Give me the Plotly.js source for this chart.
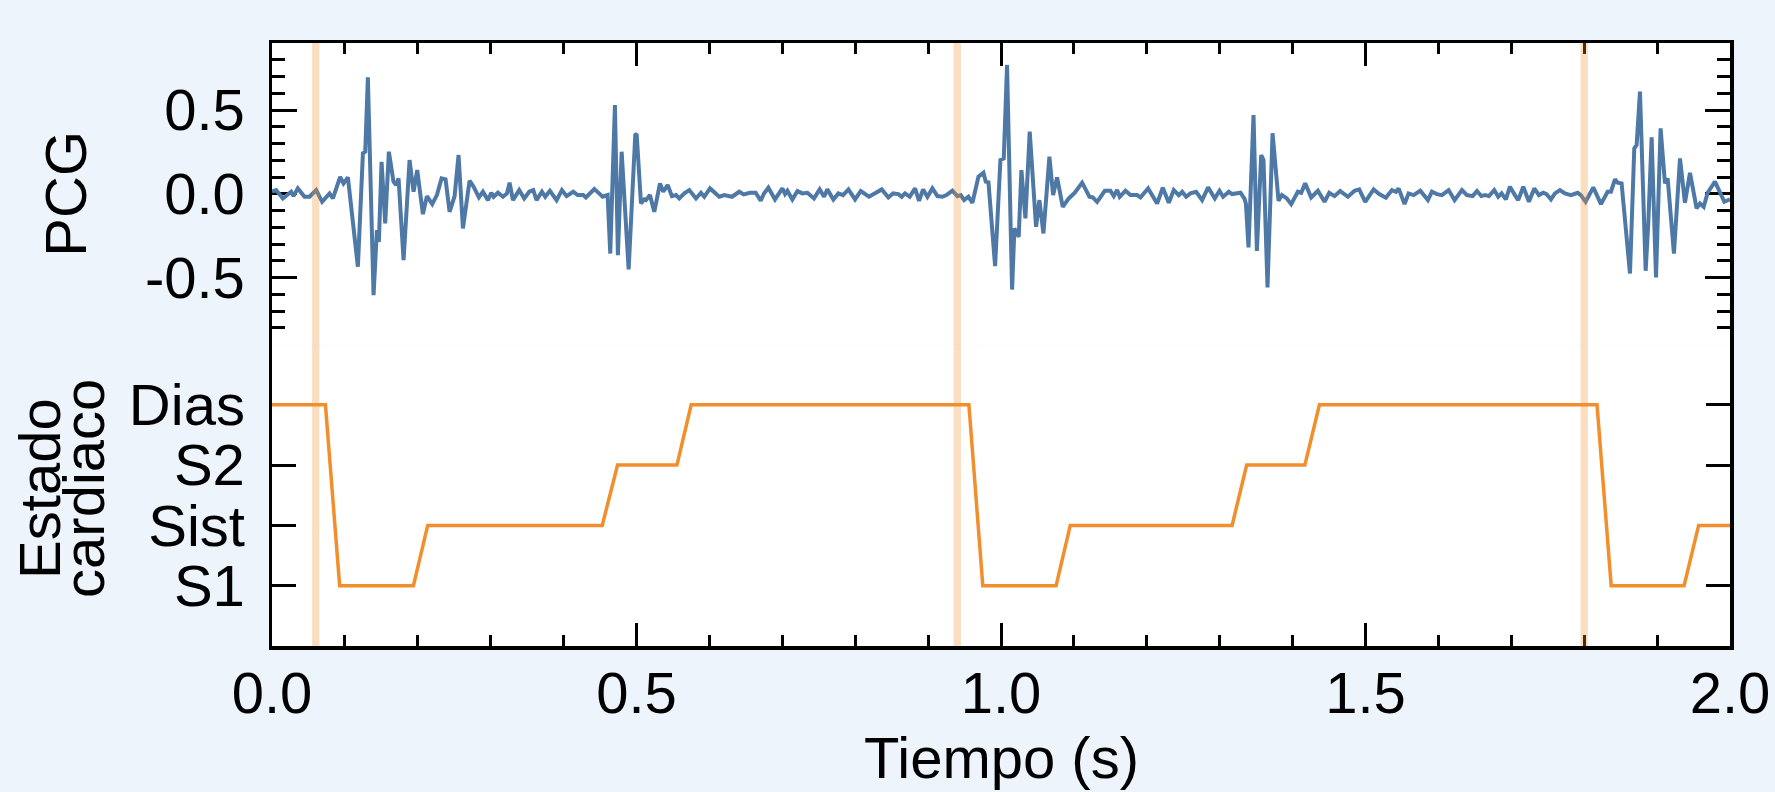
<!DOCTYPE html>
<html>
<head>
<meta charset="utf-8">
<script src="https://cdn.plot.ly/plotly-3.0.1.min.js"></script>
<style>
html,body{margin:0;padding:0;background:#eef4fc;}
#chart{width:1775px;height:792px;}
</style>
</head>
<body>
<div id="chart"></div>
<script>
// PCG signal (time in s, amplitude)
const pcgT = [
0.0000,0.0057,0.0149,0.0217,0.0263,0.0295,0.0354,0.0446,0.0515,0.0606,0.0688,0.0789,0.0835,0.0935,0.0981,0.1041,
0.1178,0.1247,0.1279,0.1315,0.1393,0.1439,0.1466,0.1503,0.1553,0.1603,0.1667,0.1704,0.1736,0.1805,0.1887,0.1942,
0.1992,0.2070,0.2125,0.2198,0.2262,0.2326,0.2381,0.2436,0.2505,0.2559,0.2619,0.2710,0.2765,0.2838,0.2893,0.2962,
0.3008,0.3040,0.3099,0.3168,0.3223,0.3259,0.3305,
0.3391,0.3460,0.3529,0.3584,0.3629,0.3703,0.3748,0.3812,0.3904,0.3977,0.4041,0.4132,0.4192,0.4270,0.4306,0.4375,
0.4421,0.4498,0.4535,0.4604,0.4640,0.4704,0.4745,0.4796,0.4892,0.4983,0.5002,0.5061,0.5107,0.5130,0.5184,0.5244,
0.5322,0.5367,0.5427,0.5486,0.5541,0.5587,0.5656,0.5724,0.5816,0.5884,0.5930,0.6008,0.6054,0.6136,0.6204,0.6310,
0.6410,0.6470,0.6557,
0.6635,0.6704,0.6749,0.6809,0.6900,0.6955,0.7001,0.7038,0.7070,0.7138,0.7207,0.7275,0.7344,0.7435,0.7513,0.7573,
0.7618,0.7701,0.7769,0.7833,0.7907,0.7998,0.8076,0.8190,0.8273,0.8364,0.8455,0.8519,0.8593,0.8638,0.8684,0.8748,
0.8821,0.8876,0.8931,0.8991,0.9059,0.9128,0.9197,0.9251,0.9334,0.9402,0.9448,0.9494,0.9553,0.9608,0.9691,0.9759,
0.9791,0.9828,0.9919,
0.9992,1.0038,1.0083,1.0152,1.0184,1.0243,1.0280,1.0335,1.0394,1.0481,1.0527,1.0582,1.0664,1.0715,1.0769,1.0847,
1.0930,1.1012,1.1113,1.1213,1.1259,1.1318,1.1424,1.1501,1.1547,1.1593,1.1629,1.1707,1.1776,1.1867,1.1913,1.2018,
1.2082,1.2142,1.2219,1.2302,1.2370,1.2439,1.2485,1.2540,1.2599,1.2677,1.2759,1.2841,1.2933,1.2997,1.3047,1.3125,
1.3171,1.3285,
1.3341,1.3360,1.3395,1.3464,1.3510,1.3569,1.3601,1.3656,1.3725,1.3807,1.3853,1.3921,1.3981,1.4072,1.4118,1.4173,
1.4255,1.4347,1.4438,1.4502,1.4576,1.4653,1.4759,1.4850,1.4914,1.4996,1.5111,1.5188,1.5280,1.5362,1.5417,1.5454,
1.5536,1.5591,1.5660,1.5751,1.5856,1.5911,1.5980,1.6048,1.6140,1.6222,1.6323,1.6391,1.6469,1.6529,1.6588,
1.6638,1.6693,1.6766,1.6821,1.6867,1.6926,1.6981,1.7050,1.7095,1.7164,1.7242,1.7315,1.7379,1.7438,1.7484,1.7544,
1.7599,1.7667,1.7736,1.7818,1.7910,1.7955,1.8019,1.8125,1.8230,1.8321,1.8367,1.8422,1.8458,1.8513,1.8628,1.8687,
1.8719,1.8765,1.8843,1.8879,1.8925,1.8985,1.9048,1.9108,1.9145,1.9231,1.9314,1.9382,1.9451,1.9542,1.9588,1.9639,
1.9693,1.9794,1.9922,2.0000
];
const pcgV = [
0.012,0.022,-0.028,-0.008,0.012,-0.014,0.032,-0.018,-0.018,0.022,-0.048,0.002,-0.028,0.100,0.062,0.098,
-0.436,0.241,0.251,0.695,-0.606,-0.217,-0.287,0.191,-0.177,0.251,0.072,0.052,0.092,-0.396,0.201,0.012,
0.141,-0.122,-0.014,-0.062,-0.008,0.092,0.086,-0.108,-0.014,0.231,-0.207,0.078,0.042,-0.022,0.012,-0.038,
0.006,-0.018,0.006,-0.018,0.002,0.066,-0.038,
0.022,-0.028,0.012,0.022,-0.038,0.012,-0.018,0.018,-0.038,0.022,-0.014,0.012,-0.008,-0.008,-0.022,0.012,
0.028,-0.002,-0.018,-0.008,-0.357,0.530,-0.367,0.251,-0.452,0.351,0.357,-0.058,-0.034,-0.038,-0.008,-0.108,
0.062,0.012,0.052,-0.014,-0.008,-0.028,0.002,0.022,-0.028,0.006,-0.018,0.032,0.012,-0.018,-0.008,-0.018,
0.012,-0.004,0.006,
0.006,-0.042,0.002,0.036,-0.034,0.002,0.032,-0.002,0.018,-0.034,0.016,0.002,0.006,-0.028,0.026,-0.018,
0.026,-0.034,0.002,-0.008,0.026,-0.034,0.016,-0.018,0.002,0.026,-0.022,0.002,-0.002,-0.018,0.002,-0.018,
0.032,-0.042,0.026,-0.018,0.032,-0.014,-0.018,-0.008,0.018,-0.014,-0.008,-0.038,-0.018,-0.054,0.102,0.125,
0.072,0.068,-0.432,
0.201,0.211,0.769,-0.572,-0.207,-0.257,0.141,-0.147,0.371,-0.197,-0.038,-0.237,0.221,-0.008,0.098,-0.078,
-0.028,0.006,0.066,-0.018,-0.022,-0.048,0.018,0.018,-0.014,0.022,-0.018,0.018,-0.008,-0.008,-0.022,0.032,
-0.014,-0.058,0.036,-0.054,0.022,-0.008,0.012,-0.018,0.002,0.012,-0.038,0.038,-0.028,0.018,-0.018,0.012,
-0.002,0.006,
-0.030,-0.060,-0.320,0.470,-0.341,0.231,0.201,-0.560,0.361,-0.042,-0.008,-0.028,-0.062,0.012,0.006,0.062,
-0.022,0.018,-0.048,0.006,-0.014,0.016,-0.018,0.018,0.026,-0.048,0.026,-0.002,-0.024,0.022,0.012,0.032,
-0.062,0.002,-0.008,0.018,-0.038,0.012,-0.002,-0.008,0.022,-0.038,0.022,-0.008,-0.014,0.016,-0.014,
-0.008,-0.014,0.022,-0.018,0.002,-0.034,0.042,-0.008,-0.038,0.042,-0.048,0.032,-0.008,0.006,-0.002,-0.034,
0.002,0.022,0.002,-0.008,0.006,-0.008,-0.048,0.038,-0.062,0.012,0.012,0.086,0.066,0.062,-0.476,0.271,
0.291,0.610,-0.460,-0.177,0.337,-0.500,0.390,0.062,0.092,-0.357,0.211,-0.054,0.125,-0.088,-0.058,-0.078,
0.006,0.072,-0.048,-0.034
];

// Cardiac state (vertices of the state line)
const stateT = [0,0.0733,0.0928,0.194,0.2136,0.453,0.474,0.5555,0.575,0.956,0.975,1.0756,1.095,1.317,1.337,1.4168,1.4368,1.8176,1.837,1.937,1.957,2.0];
const stateV = ['Dias','Dias','S1','S1','Sist','Sist','S2','S2','Dias','Dias','S1','S1','Sist','Sist','S2','S2','Dias','Dias','S1','S1','Sist','Sist'];
const stateLabels = ['S1','Sist','S2','Dias'];

// Marker times (vertical bands)
const markerTimes = [0.06, 0.94, 1.80];

// Tick labels
const pcgTickVals = [-0.5, 0, 0.5];
const pcgTickText = ['-0.5', '0.0', '0.5'];
const timeTickVals = [0, 0.5, 1.0, 1.5, 2.0];
const timeTickText = ['0.0', '0.5', '1.0', '1.5', '2.0'];

const FONT = '"Liberation Sans", Arial, Helvetica, sans-serif';
const fs = 58;

const traces = [
  {x: pcgT, y: pcgV, type: 'scatter', mode: 'lines', xaxis: 'x2', yaxis: 'y',
   line: {color: '#4e79a7', width: 4}, hoverinfo: 'skip'},
  {x: stateT, y: stateV, type: 'scatter', mode: 'lines', xaxis: 'x', yaxis: 'y2',
   line: {color: '#f28e2b', width: 3.5}, hoverinfo: 'skip'}
];

const common = {showline: true, linecolor: '#000', linewidth: 3.5, ticks: 'inside',
  tickcolor: '#000', tickwidth: 3, showgrid: false, zeroline: false, layer: 'below traces'};
const xMinor = {tickmode: 'linear', tick0: 0, dtick: 0.1, ticks: 'inside', ticklen: 11, tickwidth: 3, tickcolor: '#000', showgrid: false};

const layout = {
  width: 1775, height: 792,
  paper_bgcolor: '#eef4fc', plot_bgcolor: '#ffffff',
  margin: {l: 272, r: 45, t: 43, b: 146, pad: 0},
  showlegend: false,
  font: {family: FONT, size: fs, color: '#000'},
  xaxis: Object.assign({}, common, {anchor: 'y2', domain: [0, 1], range: [0, 2],
    tickmode: 'array', tickvals: timeTickVals, ticktext: timeTickText, ticklen: 23,
    minor: xMinor, ticklabelstandoff: -6}),
  xaxis2: Object.assign({}, common, {anchor: 'y', matches: 'x', side: 'top', range: [0, 2],
    tickmode: 'array', tickvals: timeTickVals, ticktext: timeTickText, ticklen: 23,
    showticklabels: false, minor: xMinor}),
  yaxis: Object.assign({}, common, {domain: [0.5, 1], anchor: 'x2', range: [-0.9, 0.9],
    tickmode: 'array', tickvals: pcgTickVals, ticktext: pcgTickText, ticklen: 25, mirror: 'ticks',
    minor: {tickmode: 'linear', tick0: 0, dtick: 0.1, ticks: 'inside', ticklen: 13, tickwidth: 3, tickcolor: '#000', showgrid: false},
    ticklabelstandoff: 12}),
  yaxis2: Object.assign({}, common, {domain: [0, 0.5], anchor: 'x', type: 'category',
    categoryorder: 'array', categoryarray: stateLabels, range: [-1, 4],
    tickmode: 'array', tickvals: stateLabels, ticktext: stateLabels,
    ticklen: 24, mirror: 'ticks', ticklabelstandoff: 12}),
  shapes: markerTimes.map(t => ({type: 'rect', xref: 'x', yref: 'paper', x0: t - 0.005, x1: t + 0.005,
    y0: 0, y1: 1, fillcolor: 'rgba(242,142,43,0.3)', line: {width: 0}, layer: 'above'})),
  annotations: [
    {text: 'PCG', xref: 'paper', yref: 'paper', x: -0.1415, y: 0.7496, textangle: -90,
     showarrow: false, xanchor: 'center', yanchor: 'middle', font: {family: FONT, size: fs, color: '#000'}},
    {text: 'Estado', xref: 'paper', yref: 'paper', x: -0.1599, y: 0.262, textangle: -90,
     showarrow: false, xanchor: 'center', yanchor: 'middle', font: {family: FONT, size: fs, color: '#000'}},
    {text: 'cardiaco', xref: 'paper', yref: 'paper', x: -0.1297, y: 0.262, textangle: -90,
     showarrow: false, xanchor: 'center', yanchor: 'middle', font: {family: FONT, size: fs, color: '#000'}},
    {text: 'Tiempo (s)', xref: 'paper', yref: 'paper', x: 0.5, y: -0.1856,
     showarrow: false, xanchor: 'center', yanchor: 'middle', font: {family: FONT, size: fs, color: '#000'}}
  ]
};

Plotly.newPlot('chart', traces, layout, {displayModeBar: false, staticPlot: true});
</script>
</body>
</html>
